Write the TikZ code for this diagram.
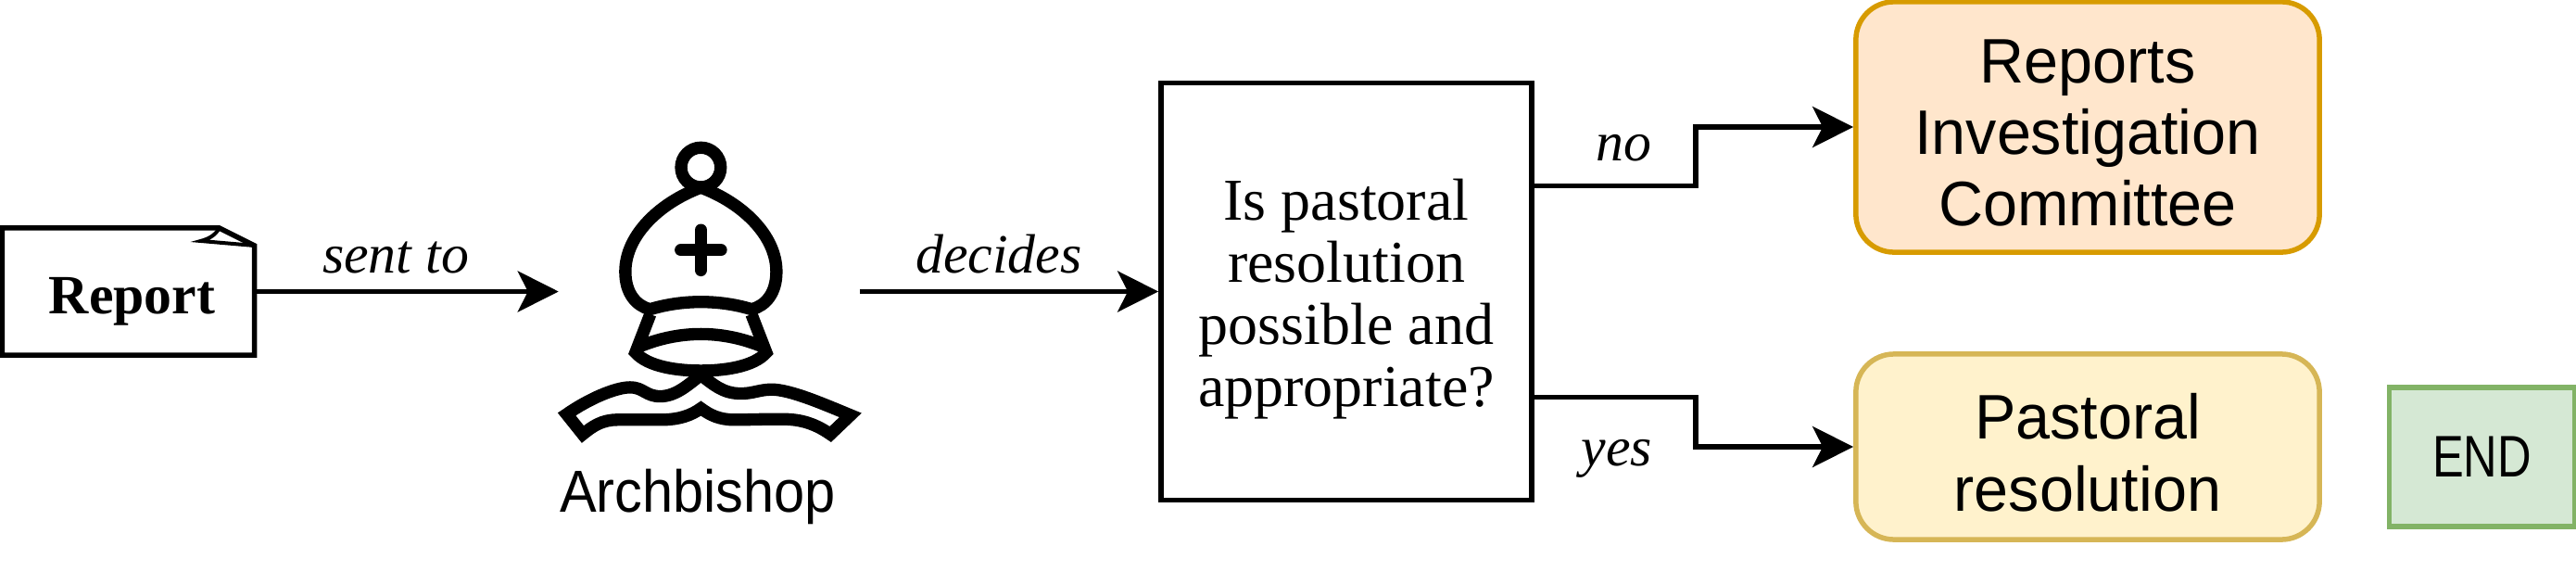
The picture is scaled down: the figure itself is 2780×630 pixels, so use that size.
\documentclass[tikz,border=0pt]{standalone}
\usepackage{fontspec}
\usepackage{xcolor}
\usepackage{tikz}
\usetikzlibrary{arrows.meta,positioning,calc}
\setmainfont{Liberation Serif}
\newfontfamily\boxfont[FakeStretch=0.98]{Liberation Sans}
\newfontfamily\iconfont[FakeStretch=0.93]{Liberation Sans}
\newfontfamily\endfont[FakeStretch=0.8]{Liberation Sans}
\definecolor{RevOrange}{HTML}{D79B00}
\definecolor{RevOrangeFill}{HTML}{FFE6CC}
\definecolor{RevYellow}{HTML}{D6B656}
\definecolor{RevYellowFill}{HTML}{FFF2CC}
\definecolor{RevGreen}{HTML}{82B366}
\definecolor{RevGreenFill}{HTML}{D5E8D4}

\begin{document}
\begin{tikzpicture}[
  x=0.01cm,y=-0.01cm,
  line width=0.055cm,
  docbox/.style={inner sep=0pt,outer sep=0pt,minimum width=2.72cm,minimum height=1.37cm,text height=17.5pt,font=\fontsize{17pt}{19pt}\selectfont\bfseries},
  iconbox/.style={inner sep=0pt,outer sep=0pt,minimum width=3.25cm,minimum height=3.5cm},
  icon/.style={line width=0.133cm,miter limit=6},
  askbox/.style={draw,inner sep=0pt,minimum width=4cm,minimum height=4.5cm,text height=74.6pt,align=center,font=\fontsize{18.2pt}{19.05pt}\selectfont},
  panel/.style={draw,rounded corners=0.41cm,inner sep=0pt,minimum width=5cm,align=center,font=\fontsize{19.3pt}{22pt}\selectfont\boxfont},
  endbox/.style={draw=RevGreen,fill=RevGreenFill,inner sep=0pt,minimum width=2cm,minimum height=1.5cm,font=\fontsize{18pt}{20pt}\selectfont\endfont},
  edgelbl/.style={anchor=base,inner sep=0pt,font=\fontsize{17pt}{19pt}\selectfont\itshape},
  arrow/.style={-{Stealth[length=4.4mm,width=4.4mm,inset=1.1mm]}}
]
\useasboundingbox (0,0) rectangle (2780,630);
\node[docbox] (report) at (138.5,314.5) {\hspace*{0.08cm}Report};
\node[iconbox,right=3.28cm of report] (bishop) {};
\node[askbox,right=3.22cm of bishop] (ask) {Is pastoral\\resolution\\possible and\\appropriate?};
\node[panel,draw=RevOrange,fill=RevOrangeFill,minimum height=2.7cm,text height=61pt] (committee) at (2253,137) {Reports\\Investigation\\Committee};
\node[panel,draw=RevYellow,fill=RevYellowFill,minimum height=2cm,text height=39.6pt] (pastoral) at (2253,482) {Pastoral\\resolution};
\node[endbox] (finish) at (2678.5,493) {END};
\node[anchor=base,inner sep=0pt,font=\fontsize{18.2pt}{20pt}\selectfont\iconfont] (bishoplbl) at (753,552) {Archbishop};
% report sheet with its folded corner
\draw (report.north west) -- ($(report.north east)+(-38,0)$) -- ($(report.north east)+(0,19)$) -- (report.south east) -- (report.south west) -- cycle;
\draw[line width=0.04cm,miter limit=8] ($(report.north east)+(-38,0)$) .. controls ($(report.north east)+(-42,8)$) and ($(report.north east)+(-50,12)$) .. ($(report.north east)+(-58,14)$) -- ($(report.north east)+(0,19)$);
% bishop icon
\begin{scope}[shift={(580,140)},x=0.003333cm,y=-0.003333cm,icon]
\draw (530,122) circle[radius=0.2133cm];
\draw (365,582) .. controls (320,570) and (285,530) .. (285,460) .. controls (285,340) and (400,235) .. (530,187) .. controls (660,235) and (775,340) .. (775,460) .. controls (775,530) and (740,570) .. (695,582) .. controls (590,550) and (470,550) .. cycle;
\draw[line cap=round] (530,325) -- (530,455);
\draw[line cap=round] (465,390) -- (595,390);
\draw (366,598) -- (318,722) .. controls (360,770) and (460,781) .. (530,781) .. controls (600,781) and (700,770) .. (742,722) -- (694,598);
\draw (325,705) .. controls (460,648) and (600,648) .. (735,705);
\draw (95,922) .. controls (170,870) and (255,835) .. (300,835) .. controls (345,835) and (350,864) .. (398,864) .. controls (450,864) and (490,825) .. (530,795) .. controls (570,825) and (600,855) .. (660,855) .. controls (700,855) and (720,842) .. (760,842) .. controls (820,842) and (930,890) .. (1015,925) -- (950,987) .. controls (890,945) and (840,938) .. (790,938) .. controls (720,938) and (680,940) .. (640,940) .. controls (590,940) and (560,925) .. (530,903) .. controls (500,925) and (460,940) .. (400,940) .. controls (360,940) and (300,940) .. (260,940) .. controls (210,940) and (180,960) .. (147,987) -- cycle;
\end{scope}
\coordinate (noout) at ($(ask.north east)!0.25!(ask.south east)$);
\coordinate (yesout) at ($(ask.north east)!0.75!(ask.south east)$);
\draw[arrow] (report) -- (bishop);
\draw[arrow] (bishop) -- (ask);
\draw[arrow] (noout) -- ++(174,0) |- (committee.west);
\draw[arrow] (yesout) -- ++(174,0) |- (pastoral.west);
\node[edgelbl] (sentlbl) at (427,294) {sent to};
\node[edgelbl] (decideslbl) at (1078,294) {decides};
\node[edgelbl] (nolbl) at (1752,173) {no};
\node[edgelbl] (yeslbl) at (1745,502) {yes};
\end{tikzpicture}
\end{document}
